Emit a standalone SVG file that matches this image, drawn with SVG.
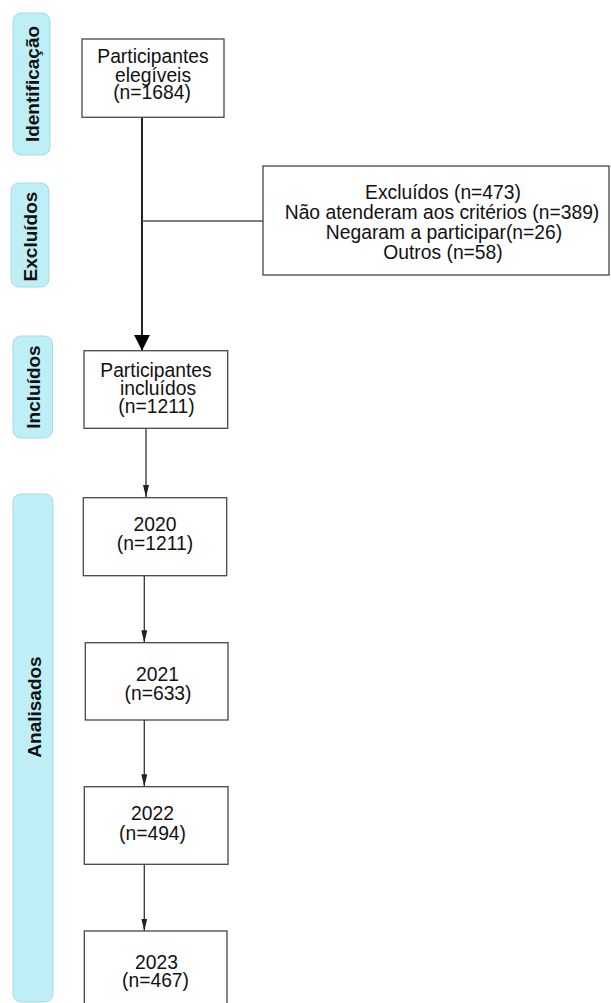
<svg xmlns="http://www.w3.org/2000/svg" width="611" height="1003" viewBox="0 0 611 1003">
<style>
.pill{fill:#bfeff6;stroke:#a6dbe4;stroke-width:1}
.ptxt{font-family:"Liberation Sans",Arial,sans-serif;font-weight:bold;font-size:19px;fill:#111;text-anchor:middle}
.box{fill:#fff;stroke:#474747;stroke-width:1.3}
.txt{font-family:"Liberation Sans",Arial,sans-serif;font-size:19.3px;fill:#111;text-anchor:middle}
.ln{stroke:#333;stroke-width:1.3;fill:none}
</style>
<defs>
<marker id="big" markerUnits="userSpaceOnUse" markerWidth="18" markerHeight="18" refX="16" refY="8" orient="auto">
<path d="M0,0 L16,8 L0,16 Z" fill="#000"/>
</marker>
<marker id="sm" markerUnits="userSpaceOnUse" markerWidth="14" markerHeight="8" refX="12.5" refY="3" orient="auto">
<path d="M0,0 L12.5,3 L0,6 Z" fill="#222"/>
</marker>
</defs>
<rect width="611" height="1003" fill="#fff"/>
<g id="stages">
<g id="stage-identificacao"><rect class="pill" x="13" y="13" width="37" height="142" rx="8"/><text class="ptxt" transform="translate(38.5,84) rotate(-90)">Identificação</text></g>
<g id="stage-excluidos"><rect class="pill" x="11" y="183" width="38" height="104" rx="8"/><text class="ptxt" transform="translate(37,236.5) rotate(-90)">Excluídos</text></g>
<g id="stage-incluidos"><rect class="pill" x="13" y="336" width="39.5" height="102" rx="8"/><text class="ptxt" transform="translate(40,387) rotate(-90)">Incluídos</text></g>
<g id="stage-analisados"><rect class="pill" x="13" y="494" width="40" height="508" rx="8"/><text class="ptxt" transform="translate(40.5,707) rotate(-90)">Analisados</text></g>
</g>
<g id="connectors">
<line x1="142" y1="117" x2="142" y2="350.7" stroke="#222" stroke-width="2" marker-end="url(#big)"/>
<line x1="142" y1="221" x2="263" y2="221" stroke="#555" stroke-width="1.4"/>
<line class="ln" x1="146" y1="428.3" x2="146" y2="497.5" marker-end="url(#sm)"/>
<line class="ln" x1="144.3" y1="575.7" x2="144.3" y2="642.7" marker-end="url(#sm)"/>
<line class="ln" x1="144.3" y1="720" x2="144.3" y2="786.7" marker-end="url(#sm)"/>
<line class="ln" x1="144.3" y1="864.3" x2="144.3" y2="931" marker-end="url(#sm)"/>
</g>
<g id="n-elegiveis"><rect class="box" x="82" y="39" width="142" height="78.3"/>
<text class="txt" x="153" y="63.3">Participantes</text><text class="txt" x="153" y="81.7">elegíveis</text><text class="txt" x="152" y="99">(n=1684)</text></g>
<g id="n-excluidos"><rect class="box" x="263" y="166" width="346" height="109" stroke="#666"/>
<text class="txt" x="443" y="198.5">Excluídos (n=473)</text>
<text class="txt" x="442" y="218.8">Não atenderam aos critérios (n=389)</text>
<text class="txt" x="444" y="239">Negaram a participar(n=26)</text>
<text class="txt" x="443" y="259">Outros (n=58)</text></g>
<g id="n-incluidos"><rect class="box" x="84" y="350.7" width="143.7" height="77.6" stroke="#666"/>
<text class="txt" x="156" y="376.7">Participantes</text><text class="txt" x="158" y="395">incluídos</text><text class="txt" x="156.5" y="413">(n=1211)</text></g>
<g id="n-2020"><rect class="box" x="83.3" y="497.7" width="143.4" height="78"/>
<text class="txt" x="155" y="531">2020</text><text class="txt" x="155" y="549.5">(n=1211)</text></g>
<g id="n-2021"><rect class="box" x="85.3" y="642.7" width="142.7" height="77.3" stroke="#666"/>
<text class="txt" x="157.5" y="680.5">2021</text><text class="txt" x="158" y="700">(n=633)</text></g>
<g id="n-2022"><rect class="box" x="84.3" y="786.7" width="143.7" height="77.6"/>
<text class="txt" x="152.5" y="820">2022</text><text class="txt" x="152.5" y="840">(n=494)</text></g>
<g id="n-2023"><rect class="box" x="84.3" y="931" width="142.7" height="90"/>
<text class="txt" x="156.5" y="969.3">2023</text><text class="txt" x="155.5" y="987.3">(n=467)</text></g>
</svg>
